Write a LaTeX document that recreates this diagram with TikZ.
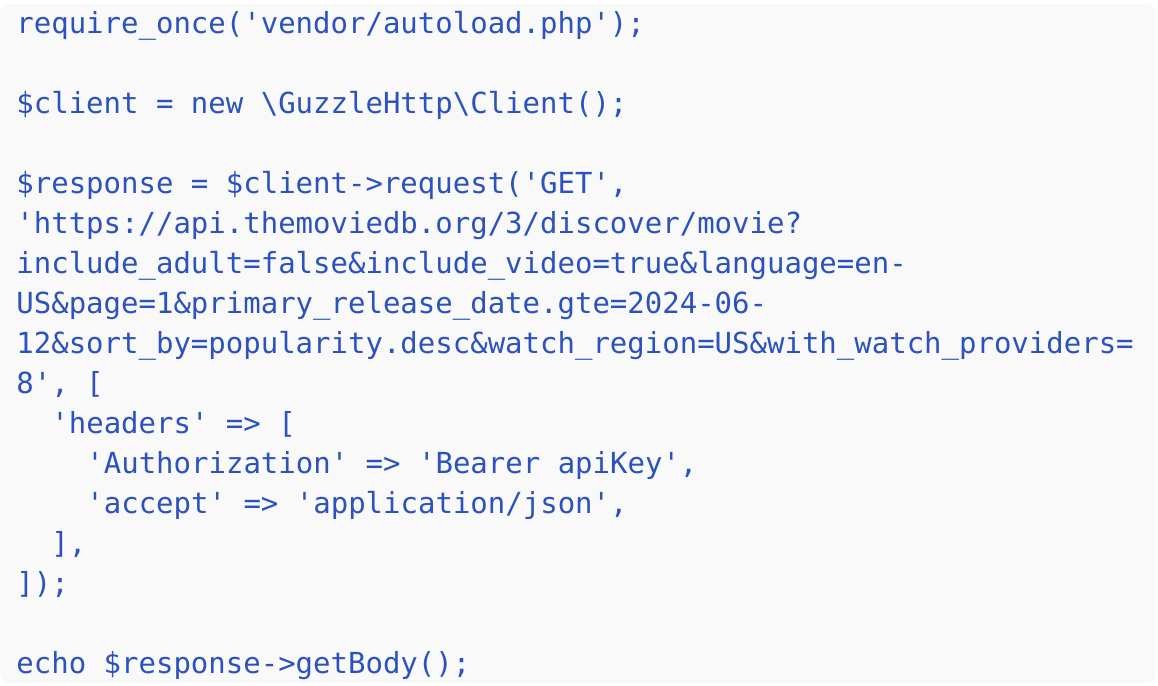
\documentclass[tikz,border=0pt]{standalone}
\usepackage{fontspec}
\setmonofont{DejaVu Sans Mono}
\definecolor{codeblue}{RGB}{44,82,190}
\definecolor{codebg}{RGB}{249,249,249}
\tikzset{
  code/.style={anchor=base west, inner sep=0pt, text=codeblue,
    font=\ttfamily\fontsize{14.5pt}{20pt}\selectfont}
}

\begin{document}
\begin{tikzpicture}[x=0.5pt, y=-0.5pt]
  \useasboundingbox (0,0) rectangle (1158,686);
  \fill[codebg, rounded corners=5pt] (0,4) rectangle (1156,683);
  \node[code] (l1) at (16,33) {require\_once('vendor/autoload.php');};
  \node[code] (l3) at (16,113) {\$client = new \textbackslash GuzzleHttp\textbackslash Client();};
  \node[code] (l5) at (16,193) {\$response = \$client->request('GET',};
  \node[code] (l6) at (16,233) {'https://api.themoviedb.org/3/discover/movie?};
  \node[code] (l7) at (16,273) {include\_adult=false\&include\_video=true\&language=en-};
  \node[code] (l8) at (16,313) {US\&page=1\&primary\_release\_date.gte=2024-06-};
  \node[code] (l9) at (16,353) {12\&sort\_by=popularity.desc\&watch\_region=US\&with\_watch\_providers=};
  \node[code] (l10) at (16,393) {8', [};
  \node[code] (l11) at (51,433) {'headers' => [};
  \node[code] (l12) at (86,473) {'Authorization' => 'Bearer apiKey',};
  \node[code] (l13) at (86,513) {'accept' => 'application/json',};
  \node[code] (l14) at (51,553) {],};
  \node[code] (l15) at (16,593) {]);};
  \node[code] (l17) at (16,673) {echo \$response->getBody();};
\end{tikzpicture}
\end{document}
